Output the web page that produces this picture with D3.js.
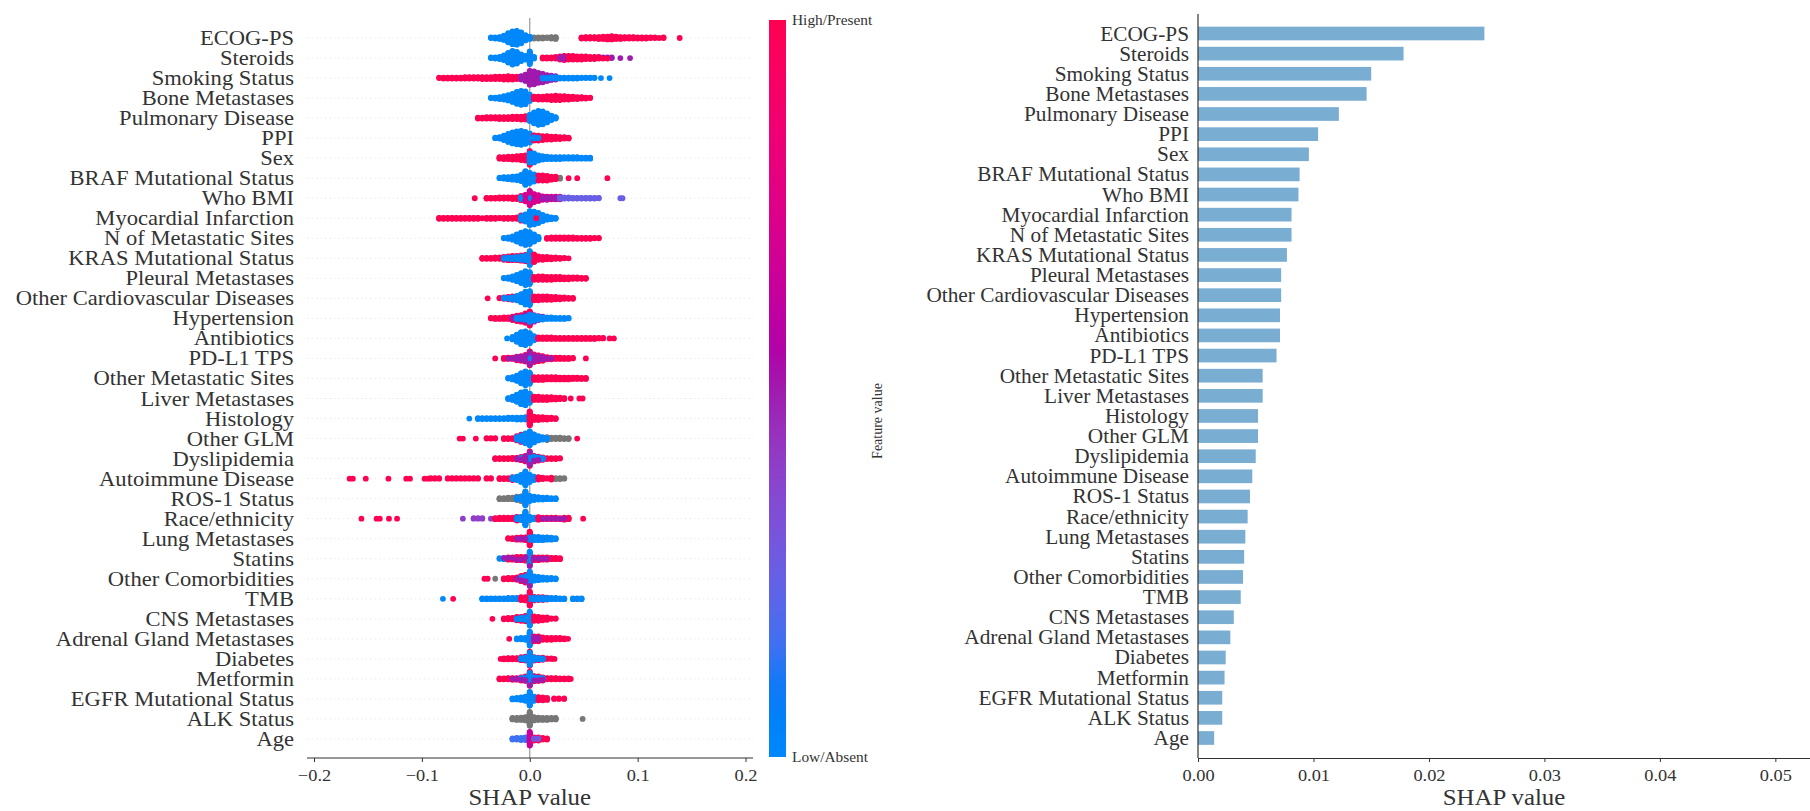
<!DOCTYPE html>
<html>
<head>
<meta charset="utf-8">
<script src="https://cdn.jsdelivr.net/npm/d3@7"></script>
<style>
  html, body { margin: 0; padding: 0; background: #fff; }
  svg { display: block; }
  text { font-family: "Liberation Serif", "Times New Roman", serif; }
</style>
</head>
<body>
<svg id="chart" width="1810" height="811"></svg>
<script>
// Features ordered by mean |SHAP| (top to bottom)
const features = [
  "ECOG-PS", "Steroids", "Smoking Status", "Bone Metastases", "Pulmonary Disease", "PPI", "Sex",
  "BRAF Mutational Status", "Who BMI", "Myocardial Infarction", "N of Metastatic Sites",
  "KRAS Mutational Status", "Pleural Metastases", "Other Cardiovascular Diseases", "Hypertension",
  "Antibiotics", "PD-L1 TPS", "Other Metastatic Sites", "Liver Metastases", "Histology", "Other GLM",
  "Dyslipidemia", "Autoimmune Disease", "ROS-1 Status", "Race/ethnicity", "Lung Metastases", "Statins",
  "Other Comorbidities", "TMB", "CNS Metastases", "Adrenal Gland Metastases", "Diabetes", "Metformin",
  "EGFR Mutational Status", "ALK Status", "Age"
];

// Mean |SHAP value| per feature (bar panel)
const meanAbsShap = [
  0.0248, 0.0178, 0.0150, 0.0146, 0.0122, 0.0104, 0.0096, 0.0088, 0.0087, 0.0081, 0.0081, 0.0077,
  0.0072, 0.0072, 0.0071, 0.0071, 0.0068, 0.0056, 0.0056, 0.0052, 0.0052, 0.0050, 0.0047, 0.0045,
  0.0043, 0.0041, 0.0040, 0.0039, 0.0037, 0.0031, 0.0028, 0.0024, 0.0023, 0.0021, 0.0021, 0.0014
];

const swarmTicks = [-0.2, -0.1, 0.0, 0.1, 0.2];
const barTicks = [0.00, 0.01, 0.02, 0.03, 0.04, 0.05];

// Feature-value codes: 0 = low/absent, 1 = high/present, null = missing
const B = 0, V = 0.25, P = 0.5, M = 0.7, R = 1, G = null;
const BIN = 0.004; // histogram bin width in SHAP units

// Per feature: [feature value, first bin SHAP value, patient counts per consecutive bin]
const swarmHist = [
  /* ECOG-PS */ [[B,-0.036,[2,3,5,10,20,28,30,24,12,6]],[G,0.004,[3,3,3,2,4,5]],
                 [R,0.048,[3,4,4,4,5,6,7,8,6,5,4,4,4,3,3,3,2,2,1,2]],[R,0.139,[1]]],
  /* Steroids */ [[B,-0.036,[2,3,5,10,20,28,24,14,8,26]],[B,0.004,[4]],[R,0.012,[3,3,3,4,4,4]],
                 [P,0.028,[3,5,6,6,5,5,4,3,3,2,2,2,2]],[R,0.036,[2,2,2,2,2,2,2,2,1,1]],[P,0.084,[1]],[P,0.093,[1]]],
  /* Smoking */ [[R,-0.084,[2,3,3,3,3,3,4,4,4,4,5,5,5,6,6,7,8,7,6]],[P,-0.008,[8,14,30,28,22,16,10,6,4]],
                 [B,0.012,[3,3,4,4,3,3,3,3,3,2,2,2,2]],[B,0.066,[1]],[B,0.074,[1]]],
  /* Bone */ [[B,-0.036,[2,3,5,8,12,18,26,30,28,14]],[R,0.004,[6,7,7,8,9,10,9,8,7,6,5,4,3,2]]],
  /* Pulmonary */ [[R,-0.048,[3,3,4,4,4,5,5,5,6,6,7,8]],[B,0,[14,24,30,28,20,10,4]]],
  /* PPI */ [[B,-0.032,[2,4,10,18,24,28,30,26,20]],[R,0.004,[8,9,9,8,7,6,5,4,3]],[B,0.004,[4,2]]],
  /* Sex */ [[R,-0.028,[4,5,6,7,8,10,12]],[R,0,[10]],[B,0,[20,20,12,8,6,5,5,5,4,4,4,4,3,3,3]]],
  /* BRAF */ [[B,-0.028,[2,4,5,7,9,14,30,22,16,10,6,4]],[G,0.012,[4,5,5,4,3]],[R,0.008,[2,2,2,2,2]],
                 [R,0.036,[1]],[R,0.044,[1]],[R,0.072,[1]]],
  /* Who BMI */ [[R,-0.051,[1]],[R,-0.040,[3,3,3,4,4,4,5,5,6]],[B,-0.008,[6,12,30,14,8]],
                 [M,-0.004,[6,8,8,8,7,6,5,5,4]],[P,0.012,[3,3,3,3]],[V,0.028,[4,4,4,3,3,3,3,3,3,2]],
                 [V,0.084,[1]],[V,0.086,[1]]],
  /* MI */ [[R,-0.084,[3,3,3,3,3,3,3,3,3,3,1,3,3,3,2,3,3,3,4,4]],[B,-0.008,[8,16,30,28,22,14,8,5,3]],[R,0.006,[1]]],
  /* N of Metastatic Sites */ [[B,-0.024,[2,4,8,16,24,30,26,16,6]],[R,0.016,[3,4,4,4,4,4,4,3,3,3,3,2,2]]],
  /* KRAS */ [[R,-0.044,[3,3,3,4,4,4,5,5,4,4,4]],[B,-0.024,[3,4,5,6,8,10,30,10]],
                 [R,0.004,[7,8,7,6,5,4,3,2]],[R,0.036,[1]]],
  /* Pleural */ [[B,-0.024,[2,4,8,14,22,30,26]],[R,0.004,[7,8,8,7,7,6,6,5,5,4,4,3,3]]],
  /* Other Cardiovascular */ [[R,-0.039,[1]],[R,-0.028,[2,2,3,3]],[B,-0.024,[2,3,5,10,18,28,30]],
                 [R,0.004,[9,9,8,8,7,6,5,4,3,3]]],
  /* Hypertension */ [[R,-0.036,[2,3,3,4,4,5,5,6,6,10]],[P,-0.016,[2,3,3,6,3,3,2,1]],[B,-0.012,[3,4,6]],
                 [B,0,[14,10,6,5,4,4,3,3,3,2]]],
  /* Antibiotics */ [[B,-0.021,[1]],[B,-0.016,[6,16,26,30,22,10]],
                 [R,0.008,[4,4,4,4,3,3,3,3,3,3,3,3,3,3,2,2]],[R,0.074,[1]],[R,0.078,[1]]],
  /* PD-L1 TPS */ [[R,-0.032,[1]],[R,-0.024,[3,3,3,3,3,4,5,6,6,5,5,4,4,4,3,3,2]],[B,-0.012,[4,6,10,24,10,6,4]],
                 [P,-0.020,[1,1,2,2,2,3,2,2,2,1,1]],[R,0.052,[1]]],
  /* Other Metastatic Sites */ [[B,-0.020,[2,6,12,22,30,24]],[R,0.004,[7,7,7,6,6,6,5,5,5,4,4,3,3]]],
  /* Liver */ [[B,-0.020,[3,8,16,26,30,20]],[R,0.004,[8,8,7,7,6,5,4,3]],[R,0.038,[1]],[R,0.046,[1]],[R,0.049,[1]]],
  /* Histology */ [[B,-0.056,[1]],[B,-0.048,[3,3,3,3,3,3,3,4,4,5,5,6]],[R,0,[30,8,7,6,5,4,3]]],
  /* Other GLM */ [[R,-0.065,[1]],[R,-0.062,[1]],[R,-0.050,[1]],[R,-0.040,[2,2,2,0,3,3,3,4,4]],
                 [B,-0.012,[6,12,22,30,18,10,6,3]],[G,0.016,[4,4,4,4,3,3]],[R,0.044,[1]]],
  /* Dyslipidemia */ [[R,-0.032,[3,3,3,3,4,4,4,5,5,4,4,4,3,3,3,2]],[B,-0.008,[4,8,30,10,6,3]],[P,-0.012,[1,1,2,2,1,1]]],
  /* Autoimmune */ [[R,-0.167,[1]],[R,-0.164,[1]],[R,-0.152,[1]],[R,-0.131,[1]],[R,-0.1145,[1]],[R,-0.111,[1]],
                 [R,-0.0975,[1]],[R,-0.0944,[1]],
                 [R,-0.092,[2,2,2,0,2,2,2,2,2,2,2,2,0,2,2,0,3,3,3,3]],
                 [B,-0.016,[4,8,16,30,16,8,4,2]],[R,0.008,[2,2,2,2]],[G,0.020,[3,3,3,2]]],
  /* ROS-1 */ [[G,-0.028,[3,3,4,4,4,5]],[B,-0.012,[4,6,30,12,8,6,5,4,3,3]]],
  /* Race/ethnicity */ [[R,-0.156,[1]],[R,-0.142,[1]],[R,-0.139,[1]],[R,-0.1305,[1]],[R,-0.123,[1]],
                 [0.4,-0.062,[1]],[0.4,-0.052,[2,2,2]],[0.4,-0.036,[1]],[R,-0.032,[3,4,4,4,4,5]],
                 [B,-0.012,[4,8,30,8,4,3]],[R,0.008,[3,3,3,3,3,2,2,2]],[P,0.012,[1,1,1,1,1,1]],
                 [G,0.032,[2,2]],[R,0.0495,[1]]],
  /* Lung */ [[R,-0.020,[2,3,4,5,6,24]],[B,0,[6,8,8,7,6,5,3]],[P,-0.012,[1,1,1]]],
  /* Statins */ [[B,-0.028,[2,3,3,3,4,4,5]],[R,-0.020,[2,2,3,3,3]],[B,0,[30]],[R,0.004,[6,6,5,5,4,4,3]],
                 [P,-0.024,[1,1,1,1,1,1,1,1,1,1,1]]],
  /* Other Comorbidities */ [[R,-0.042,[1]],[R,-0.039,[1]],[G,-0.032,[1]],[R,-0.024,[3,4,4,5,5,6]],
                 [B,-0.008,[6,10,30,10,8,6,5,4,3]],[P,-0.012,[1,1,1,1]]],
  /* TMB */ [[B,-0.0805,[1]],[R,-0.071,[1]],[B,-0.044,[3,3,3,3,3,3,4,4,4,5,5,30]],[R,-0.008,[3,4,6,4,3,3,2]],
                 [B,0.004,[6,5,5,4,4,4,3,3,0,3,3,3]]],
  /* CNS */ [[R,-0.0346,[1]],[R,-0.024,[3,4,4,5,5,6]],[B,-0.012,[3,4,6,30,6,5,4,3]],[R,0.004,[4,4,3,3,2,2]]],
  /* Adrenal */ [[R,-0.019,[1]],[B,-0.012,[3,4,5,30,4,3]],[R,0.004,[5,6,6,5,5,4,4,3]],[R,0.0355,[1]],[P,0.004,[2,2]]],
  /* Diabetes */ [[R,-0.027,[1]],[R,-0.024,[3,4,4,4,4,4,4,3,3,3,2,2]],[B,-0.008,[4,6,30,6,4,3]],[R,0.023,[1]]],
  /* Metformin */ [[R,-0.028,[3,3,4,4,4,4,5,5,5,5,4,4,4,4,3,3,3]],[B,-0.008,[4,6,30,8,6,4]],
                 [P,-0.016,[1,1,1,1,1,1,1,1]],[R,0.038,[1]]],
  /* EGFR */ [[B,-0.016,[3,4,6,10,30,10,6,5,3]],[R,0.008,[2,2,2]],[R,0.0226,[2]],[R,0.027,[2]],[R,0.0319,[2]]],
  /* ALK */ [[G,-0.016,[4,5,6,8,30,8,6,5,5,4,4]],[G,0.049,[1]]],
  /* Age */ [[0.15,-0.016,[3,4,5,6]],[0.65,0,[28]],[R,0.004,[5,5,4,3]],[0.3,0.004,[2,2]]]
];

// ---------- colour map (blue -> purple -> red, LCh with darker middle) ----------
function featureColor(t) {
  const h = 266.9 + t * 113.4;
  const c = 70 + 20 * t;
  const l = 54 - 14 * (1 - Math.abs(2 * t - 1));
  return d3.hcl(h, c, l).formatHex();
}
const NA_COLOR = "#777777";

const svg = d3.select("#chart");
const SX = 1.08;       // horizontal stretch for the serif text
const TXT = "#333333";

function placeText(g, x, y, str, size, anchor, sx) {
  return g.append("text")
    .attr("transform", `translate(${x},${y}) scale(${sx || SX},1)`)
    .attr("text-anchor", anchor)
    .attr("font-size", size)
    .attr("fill", TXT)
    .text(str);
}

// ======================= Left panel: beeswarm =======================
const left = svg.append("g");
const xL = d3.scaleLinear().domain([-0.2, 0.2]).range([314, 745.5]);
const yL = d3.scalePoint().domain(features).range([38, 739]);
const rowStep = yL.step();
const axisY = 758;
const xEdge = [xL.invert(307), xL.invert(753)];

// dotted row guides
left.append("g").selectAll("line").data(features).join("line")
  .attr("x1", xL(xEdge[0])).attr("x2", xL(xEdge[1]))
  .attr("y1", d => yL(d)).attr("y2", d => yL(d))
  .attr("stroke", "#e4e4e4").attr("stroke-width", 0.8).attr("stroke-dasharray", "1.5,3");

// zero line
left.append("line")
  .attr("x1", xL(0)).attr("x2", xL(0)).attr("y1", yL(features[0]) - rowStep).attr("y2", axisY)
  .attr("stroke", "#999").attr("stroke-width", 1.2);

// build the swarm points
const allPts = [];
swarmHist.forEach((groups, fi) => {
  const pts = [];
  groups.forEach(([c, start, counts]) => {
    counts.forEach((n, i) => {
      const v = start + i * BIN;
      for (let k = 0; k < n; k++) pts.push({ v, c, fi });
    });
  });
  const bins = d3.group(pts, p => Math.round(p.v / 0.002));
  let maxHalf = 0;
  for (const arr of bins.values()) {
    arr.sort((a, b) => (a.c === null ? 0.5 : a.c) - (b.c === null ? 0.5 : b.c));
    arr.forEach((p, layer) => {
      p.layer = Math.ceil(layer / 2) * ((layer % 2) * 2 - 1);
      maxHalf = Math.max(maxHalf, Math.abs(p.layer));
    });
  }
  const dy = 0.38 * rowStep / (maxHalf + 1);
  pts.forEach(p => { p.y = yL(features[fi]) - p.layer * dy; });
  allPts.push(...pts);
});
const orderedPts = allPts.filter(p => p.c === null).concat(allPts.filter(p => p.c !== null));
left.append("g").selectAll("circle").data(orderedPts).join("circle")
  .attr("cx", d => xL(d.v)).attr("cy", d => d.y).attr("r", 2.9)
  .attr("fill", d => d.c === null ? NA_COLOR : featureColor(d.c));

// feature labels
const labL = left.append("g");
features.forEach(f => placeText(labL, 294, yL(f) + 7, f, 21, "end", 1.075));

// x axis
const axL = left.append("g").attr("transform", `translate(0,${axisY})`)
  .call(d3.axisBottom(xL).tickValues(swarmTicks).tickFormat(d3.format(".1f")).tickSize(4).tickPadding(7).tickSizeOuter(0));
axL.select(".domain").remove();
axL.append("line").attr("x1", xL(xEdge[0])).attr("x2", xL(xEdge[1])).attr("stroke", "#333").attr("stroke-width", 1.2);
axL.selectAll(".tick line").attr("stroke", "#333");
axL.selectAll(".tick text").attr("font-size", 17).attr("fill", TXT).attr("transform", `scale(${SX},1)`);
placeText(left, xL(0), 805, "SHAP value", 23, "middle", 1.08);

// colour bar
const cbX = 769, cbW = 17, cbTop = 20, cbBot = 757;
const grad = svg.append("defs").append("linearGradient").attr("id", "fv")
  .attr("x1", 0).attr("y1", 1).attr("x2", 0).attr("y2", 0);
d3.range(0, 1.0001, 0.05).forEach(t => grad.append("stop").attr("offset", t).attr("stop-color", featureColor(t)));
svg.append("rect").attr("x", cbX).attr("y", cbTop).attr("width", cbW).attr("height", cbBot - cbTop).attr("fill", "url(#fv)");
placeText(svg, 792, cbTop + 5, "High/Present", 14, "start", 1.1);
placeText(svg, 792, cbBot + 5, "Low/Absent", 14, "start", 1.1);
svg.append("text").attr("transform", `translate(882,421) rotate(-90)`)
  .attr("text-anchor", "middle").attr("font-size", 14).attr("fill", TXT).text("Feature value");

// ======================= Right panel: mean |SHAP| bars =======================
const right = svg.append("g");
const xR = d3.scaleLinear().domain([0, 0.053]).range([1198, 1810]);
const yR = d3.scalePoint().domain(features).range([33.5, 738]);
const barH = yR.step() * 0.68;

right.append("g").selectAll("rect").data(features).join("rect")
  .attr("x", xR(0)).attr("y", d => yR(d) - barH / 2)
  .attr("width", (d, i) => xR(meanAbsShap[i]) - xR(0)).attr("height", barH)
  .attr("fill", "#79add2");

const labR = right.append("g");
features.forEach(f => placeText(labR, 1189, yR(f) + 7, f, 20, "end", 1.065));

const axR = right.append("g").attr("transform", `translate(0,${axisY})`)
  .call(d3.axisBottom(xR).tickValues(barTicks).tickFormat(d3.format(".2f")).tickSize(4).tickPadding(7).tickSizeOuter(0));
axR.select(".domain").attr("stroke", "#333").attr("stroke-width", 1.2);
axR.selectAll(".tick line").attr("stroke", "#333");
axR.selectAll(".tick text").attr("font-size", 17).attr("fill", TXT).attr("transform", `scale(${SX},1)`);
right.append("line").attr("x1", xR(0)).attr("x2", xR(0)).attr("y1", 14).attr("y2", axisY)
  .attr("stroke", "#333").attr("stroke-width", 1.2);
placeText(right, (xR.range()[0] + xR.range()[1]) / 2, 805, "SHAP value", 23, "middle", 1.08);
</script>
</body>
</html>
